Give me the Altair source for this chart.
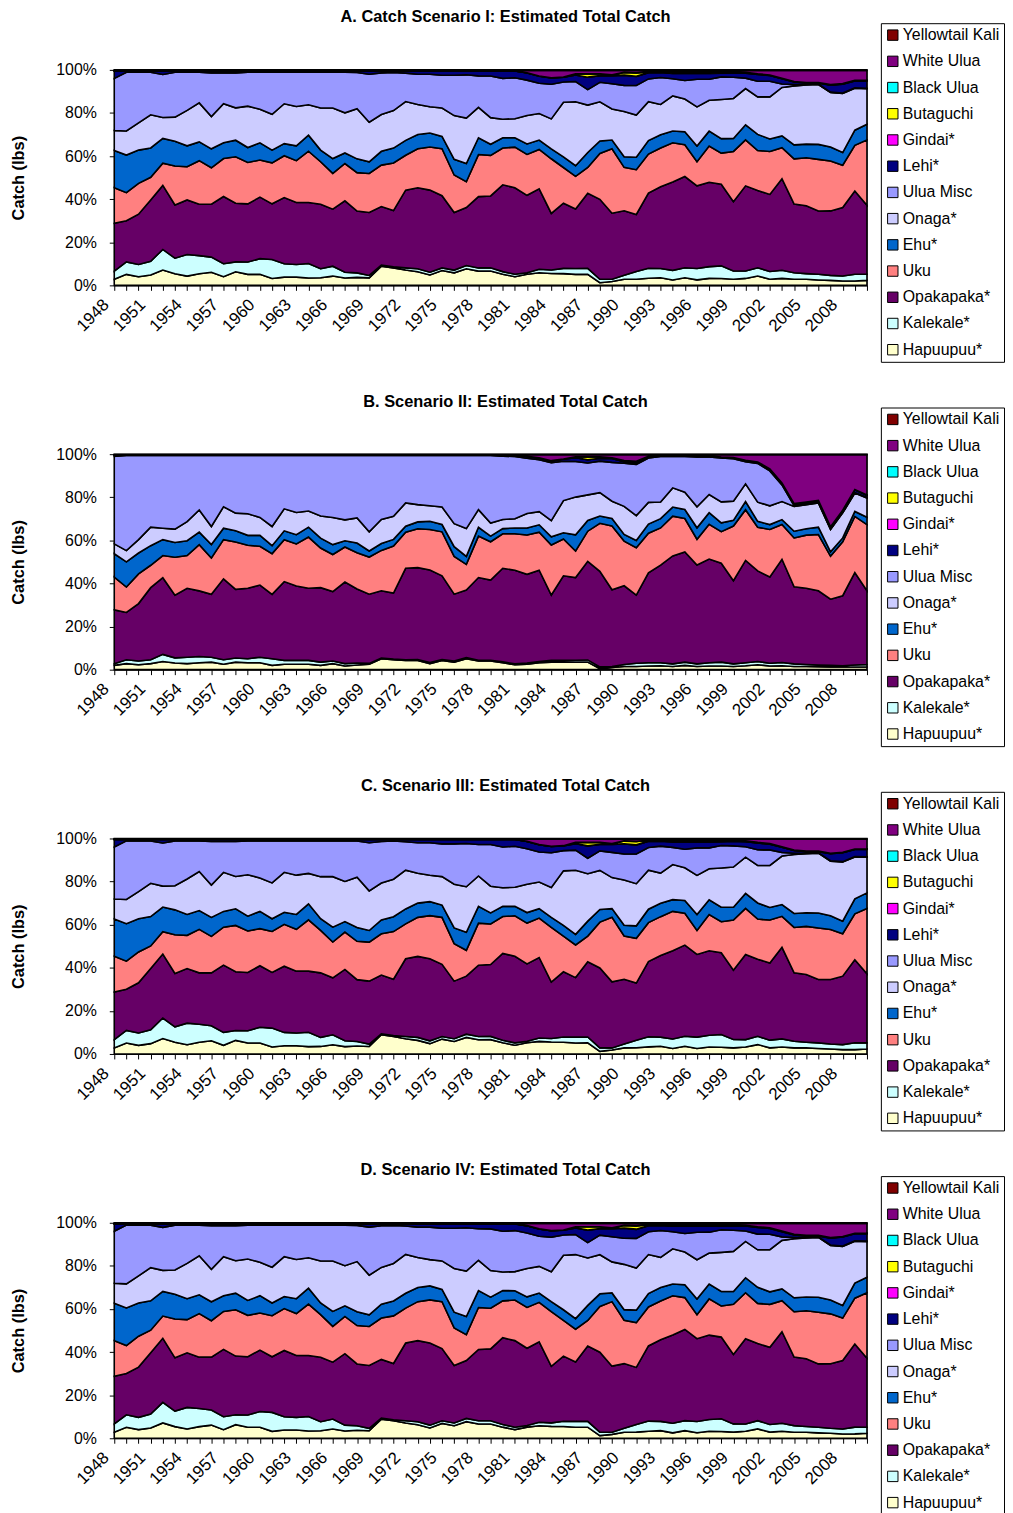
import altair as alt
import pandas as pd

years = list(range(1948, 2011))

series = ["Hapuupuu*", "Kalekale*", "Opakapaka*", "Uku", "Ehu*", "Onaga*", "Ulua Misc",
          "Lehi*", "Gindai*", "Butaguchi", "Black Ulua", "White Ulua", "Yellowtail Kali"]
colors = ["#FFFFCC", "#CCFFFF", "#660066", "#FF8080", "#0066CC", "#CCCCFF", "#9999FF",
          "#000080", "#FF00FF", "#FFFF00", "#00FFFF", "#800080", "#800000"]

titles = ["A. Catch Scenario I: Estimated Total Catch",
          "B. Scenario II: Estimated Total Catch",
          "C. Scenario III: Estimated Total Catch",
          "D. Scenario IV: Estimated Total Catch"]

# ---- Scenario I (also used for III and IV, which plot the same shares) ----
hap_a = [2.8, 5.1, 4.0, 4.8, 7.1, 5.4, 4.3, 5.4, 6.1, 4.0, 6.3, 5.1, 5.1, 3.2, 3.8, 3.8, 3.4, 3.5, 4.3, 3.4, 3.7,
         3.5, 8.9, 8.1, 7.1, 6.3, 4.8, 6.9, 5.8, 7.7, 6.6, 6.6, 5.1, 4.0, 5.1, 5.8, 5.5, 5.4, 5.1, 5.1, 1.2, 1.8,
         2.8, 2.8, 3.2, 3.5, 2.5, 3.5, 2.5, 3.2, 3.1, 2.8, 3.2, 4.3, 2.8, 3.2, 2.8, 2.8, 2.5, 2.3, 2.0, 2.0, 2.3]
kal_a = [3.8, 5.8, 5.7, 6.4, 9.5, 7.2, 10.0, 8.4, 7.0, 6.0, 4.6, 5.7, 7.3, 8.8, 6.2, 5.9, 6.7, 4.2, 4.6, 2.7, 2.1,
         1.1, 0.5, 0.5, 1.0, 1.4, 1.3, 1.2, 1.3, 1.5, 1.5, 1.5, 1.2, 1.1, 0.7, 1.6, 1.6, 2.4, 2.7, 2.7, 1.6, 1.0,
         1.8, 3.5, 4.6, 4.2, 4.4, 4.6, 5.2, 5.4, 5.8, 3.8, 3.4, 3.8, 3.5, 3.7, 3.0, 2.6, 2.6, 2.3, 2.3, 3.1, 2.8]
opa_a = [22.0, 19.1, 23.3, 28.4, 29.6, 24.7, 25.3, 23.8, 24.5, 31.2, 27.2, 27.0, 28.5, 25.8, 30.7, 28.7, 28.3, 29.9, 26.4, 33.1, 28.7,
         29.2, 27.2, 26.1, 36.1, 37.6, 38.1, 33.5, 26.7, 26.9, 33.1, 33.1, 39.8, 39.9, 35.4, 37.1, 26.1, 30.0, 27.5, 34.6, 36.8, 30.4,
         29.7, 26.0, 34.1, 37.3, 40.7, 41.8, 37.8, 38.7, 37.3, 31.8, 39.2, 35.4, 35.2, 41.9, 31.5, 31.2, 29.2, 29.7, 31.5, 38.1, 31.8]
uku_a = [16.4, 13.0, 14.3, 10.5, 10.3, 18.0, 15.4, 20.2, 16.9, 17.6, 21.5, 19.2, 17.2, 19.0, 19.4, 19.4, 23.8, 19.7, 16.6, 17.3, 17.8,
         18.1, 19.2, 22.1, 16.2, 18.1, 20.0, 21.8, 17.4, 12.0, 19.5, 18.7, 16.9, 18.7, 18.7, 18.2, 25.2, 16.4, 15.1, 11.8, 21.1, 29.7,
         19.9, 20.4, 17.7, 17.7, 18.1, 14.6, 11.0, 16.6, 14.2, 23.0, 21.2, 18.4, 19.6, 14.2, 20.8, 22.1, 23.8, 23.0, 19.5, 21.0, 30.1]
ehu_a = [17.2, 17.4, 15.4, 13.6, 11.4, 11.5, 9.7, 8.7, 8.8, 7.3, 7.7, 6.9, 8.0, 5.9, 5.6, 6.9, 7.4, 5.4, 6.9, 4.9, 6.4,
         5.4, 6.4, 6.9, 6.9, 6.6, 6.5, 5.7, 7.3, 8.4, 7.8, 5.1, 4.7, 4.3, 4.8, 4.3, 4.6, 4.9, 4.9, 6.9, 5.8, 4.0,
         4.9, 5.7, 6.1, 6.1, 5.4, 5.9, 7.2, 6.8, 6.6, 5.9, 6.9, 7.4, 5.7, 5.4, 6.4, 6.3, 6.9, 6.4, 5.8, 6.9, 7.2]
ona_a = [9.2, 11.2, 12.6, 15.4, 9.7, 11.2, 16.4, 18.1, 15.0, 18.1, 15.0, 19.2, 15.5, 16.6, 18.5, 18.2, 14.1, 19.5, 23.4, 18.6, 23.3,
         18.4, 17.1, 17.4, 18.0, 13.9, 12.2, 13.2, 20.3, 21.1, 14.1, 12.3, 8.5, 8.8, 13.0, 12.3, 13.8, 25.1, 29.6, 21.8, 18.0, 14.3,
         20.8, 19.2, 17.7, 13.8, 16.2, 15.0, 17.9, 14.2, 17.9, 18.4, 16.7, 17.2, 19.2, 22.2, 27.1, 27.2, 27.6, 25.1, 27.2, 19.2, 16.4]
ulm_a = [24.0, 27.2, 23.5, 19.7, 19.9, 20.8, 17.7, 14.2, 20.2, 14.3, 16.2, 15.7, 17.2, 19.5, 14.6, 15.9, 15.1, 16.6, 16.6, 18.8, 16.8,
         22.3, 19.3, 17.7, 13.2, 14.1, 15.1, 15.2, 18.7, 20.1, 14.6, 19.2, 18.7, 18.9, 16.2, 13.9, 16.0, 9.3, 9.3, 7.1, 9.0, 11.6,
         12.0, 13.5, 10.3, 12.3, 7.9, 8.5, 12.6, 9.6, 10.3, 9.7, 4.8, 7.2, 7.1, 1.6, 0.6, 0.3, 0.2, 0.2, 0.2, 0.2, 0.2]
lehi_a = [3.4, 0.6, 0.6, 0.6, 1.6, 0.6, 0.6, 0.6, 0.9, 0.9, 0.9, 0.6, 0.6, 0.6, 0.6, 0.6, 0.6, 0.6, 0.6, 0.6, 0.7,
          1.5, 0.9, 0.7, 1.0, 1.5, 1.5, 2.0, 2.0, 1.8, 2.3, 2.3, 3.4, 3.1, 3.3, 3.3, 2.9, 2.2, 3.0, 5.7, 3.0, 3.7,
          4.6, 4.1, 2.8, 2.3, 2.5, 3.3, 2.7, 2.7, 1.7, 2.1, 2.3, 3.1, 2.6, 2.4, 1.2, 0.6, 0.5, 3.2, 4.1, 3.2, 3.4]
gin_a = [0.05, 0.05, 0.05, 0.05, 0.05, 0.05, 0.05, 0.05, 0.05, 0.05, 0.05, 0.05, 0.05, 0.05, 0.05, 0.05, 0.05, 0.05, 0.05, 0.05, 0.05,
         0.05, 0.05, 0.05, 0.05, 0.05, 0.05, 0.05, 0.05, 0.05, 0.05, 0.05, 0.05, 0.05, 0.05, 0.05, 0.05, 0.05, 0.05, 0.05, 0.05, 0.05,
         0.1, 0.1, 0.1, 0.1, 0.1, 0.1, 0.1, 0.1, 0.1, 0.1, 0.1, 0.1, 0.1, 0.1, 0.1, 0.1, 0.1, 0.1, 0.1, 0.1, 0.1]
but_a = [0.0, 0.0, 0.0, 0.0, 0.0, 0.0, 0.0, 0.0, 0.0, 0.0, 0.0, 0.0, 0.0, 0.0, 0.0, 0.0, 0.0, 0.0, 0.0, 0.0, 0.0,
         0.0, 0.0, 0.0, 0.0, 0.0, 0.0, 0.0, 0.0, 0.0, 0.0, 0.0, 0.0, 0.0, 0.0, 0.0, 0.0, 0.0, 0.5, 1.5, 0.8, 0.3,
         1.2, 1.5, 0.3, 0.3, 0.6, 0.6, 0.5, 0.5, 0.4, 0.2, 0.2, 0.1, 0.1, 0.05, 0.05, 0.05, 0.05, 0.05, 0.05, 0.05, 0.05]
blk_a = [0.05, 0.05, 0.05, 0.05, 0.05, 0.05, 0.05, 0.05, 0.05, 0.05, 0.05, 0.05, 0.05, 0.05, 0.05, 0.05, 0.05, 0.05, 0.05, 0.05, 0.05,
         0.05, 0.05, 0.05, 0.05, 0.05, 0.05, 0.05, 0.05, 0.05, 0.05, 0.05, 0.05, 0.05, 0.05, 0.05, 0.05, 0.05, 0.05, 0.05, 0.05, 0.05,
         0.1, 0.1, 0.1, 0.1, 0.1, 0.1, 0.1, 0.1, 0.1, 0.1, 0.1, 0.1, 0.1, 0.1, 0.1, 0.1, 0.1, 0.1, 0.1, 0.1, 0.1]
wul_a = [0.1, 0.1, 0.1, 0.1, 0.1, 0.1, 0.1, 0.1, 0.1, 0.1, 0.1, 0.1, 0.1, 0.1, 0.1, 0.1, 0.1, 0.1, 0.1, 0.1, 0.1,
         0.1, 0.1, 0.1, 0.1, 0.1, 0.1, 0.1, 0.1, 0.1, 0.1, 0.1, 0.1, 0.1, 1.0, 2.5, 3.3, 3.0, 1.5, 1.5, 1.5, 2.0,
         0.8, 1.0, 0.5, 0.4, 0.5, 0.5, 0.6, 0.6, 0.6, 0.6, 0.8, 1.5, 2.0, 3.5, 5.0, 5.5, 5.5, 6.5, 6.0, 4.5, 4.5]
ytk_a = [0.3, 0.3, 0.3, 0.3, 0.3, 0.3, 0.3, 0.3, 0.3, 0.3, 0.3, 0.3, 0.3, 0.3, 0.3, 0.3, 0.3, 0.3, 0.3, 0.3, 0.3,
         0.3, 0.3, 0.3, 0.3, 0.3, 0.3, 0.3, 0.3, 0.3, 0.3, 0.3, 0.3, 0.3, 0.3, 0.3, 0.3, 0.3, 0.3, 0.3, 0.3, 0.3,
         0.3, 0.3, 0.3, 0.3, 0.3, 0.3, 0.3, 0.3, 0.3, 0.3, 0.3, 0.3, 0.3, 0.3, 0.3, 0.3, 0.3, 0.3, 0.3, 0.3, 0.3]

# ---- Scenario II ----
hap_b = [2.0, 2.8, 2.3, 2.8, 3.8, 3.1, 2.8, 3.2, 3.5, 2.5, 3.5, 3.2, 3.2, 2.0, 2.5, 2.5, 2.5, 2.0, 2.8, 1.7, 2.2,
         2.5, 5.1, 4.6, 4.3, 4.3, 2.8, 4.3, 3.5, 5.1, 4.0, 4.0, 3.2, 2.3, 2.5, 3.2, 3.5, 3.5, 3.5, 3.5, 0.5, 1.0,
         1.5, 1.5, 1.7, 1.8, 1.5, 2.0, 1.5, 1.7, 1.7, 1.5, 1.8, 2.3, 1.7, 1.8, 1.5, 1.5, 1.4, 1.2, 1.2, 1.2, 1.2]
kal_b = [0.8, 1.8, 1.7, 1.8, 3.3, 2.4, 3.0, 2.9, 2.3, 2.1, 1.9, 1.9, 2.6, 3.1, 1.8, 1.8, 1.8, 1.5, 1.2, 1.1, 0.9,
         0.4, 0.3, 0.3, 0.3, 0.4, 0.5, 0.4, 0.5, 0.5, 0.4, 0.4, 0.4, 0.4, 0.6, 0.6, 0.8, 0.8, 0.9, 1.0, 0.8, 0.5,
         0.9, 1.5, 1.5, 1.4, 1.2, 1.5, 1.2, 1.5, 1.8, 1.2, 1.4, 1.5, 1.3, 1.5, 1.2, 0.9, 0.8, 0.8, 0.6, 1.0, 1.2]
opa_b = [25.0, 22.0, 26.7, 33.5, 35.6, 29.1, 32.0, 30.5, 29.2, 37.6, 31.9, 32.7, 33.5, 29.9, 36.6, 34.6, 33.5, 34.6, 32.3, 37.9, 34.4,
         32.1, 31.2, 30.6, 42.4, 42.6, 42.9, 38.8, 31.0, 31.3, 38.3, 37.1, 43.4, 43.4, 41.1, 42.4, 30.3, 39.2, 38.3, 45.6, 44.2, 35.5,
         36.5, 31.6, 41.8, 45.3, 50.0, 51.0, 45.8, 48.0, 45.8, 38.5, 47.5, 42.0, 40.0, 47.9, 35.7, 35.4, 34.4, 30.7, 32.5, 42.8, 34.2]
uku_b = [15.2, 11.8, 13.8, 10.4, 10.3, 17.6, 15.2, 21.5, 16.9, 18.2, 22.0, 20.0, 18.0, 18.9, 19.5, 19.5, 23.8, 18.4, 17.2, 16.3, 16.8,
         17.2, 18.7, 21.8, 16.7, 18.0, 18.8, 20.4, 17.5, 11.9, 19.2, 17.8, 16.0, 16.9, 18.2, 17.7, 23.2, 17.0, 12.3, 13.9, 22.2, 29.5,
         20.7, 21.9, 18.4, 17.2, 18.4, 15.5, 11.9, 16.1, 14.6, 25.3, 23.5, 20.3, 22.0, 16.1, 22.7, 24.6, 26.1, 20.0, 25.0, 26.1, 30.7]
ehu_b = [10.9, 11.7, 9.7, 9.1, 7.4, 6.9, 6.9, 5.8, 6.2, 5.3, 5.2, 4.6, 5.1, 3.7, 4.1, 4.3, 4.6, 4.6, 4.6, 2.9, 4.5,
         2.8, 3.2, 3.1, 2.8, 3.2, 3.8, 3.4, 4.5, 3.7, 4.1, 2.6, 2.4, 2.7, 3.3, 3.4, 3.8, 2.9, 7.5, 5.0, 3.4, 3.5,
         3.1, 3.4, 4.2, 4.3, 4.2, 4.2, 5.3, 5.4, 4.1, 2.6, 3.8, 2.7, 2.3, 2.3, 3.1, 3.0, 3.4, 2.0, 1.8, 2.3, 3.4]
ona_b = [4.6, 5.2, 6.2, 8.6, 5.3, 6.2, 8.9, 10.3, 8.4, 10.0, 8.2, 10.0, 8.3, 8.9, 10.2, 10.3, 7.5, 10.3, 12.6, 9.7, 11.7,
         8.9, 11.1, 10.7, 10.8, 8.0, 7.2, 8.1, 10.7, 12.9, 8.2, 6.1, 4.2, 4.3, 6.7, 6.1, 7.5, 14.9, 17.5, 11.8, 10.8, 8.0,
         13.0, 11.5, 10.1, 7.7, 8.9, 8.0, 9.7, 8.4, 9.7, 8.9, 8.2, 8.9, 8.7, 8.4, 11.5, 11.1, 11.2, 10.3, 11.6, 8.5, 8.9]
ulm_b = [40.7, 44.2, 39.1, 33.3, 33.8, 34.2, 30.7, 25.3, 33.0, 23.8, 26.8, 27.1, 28.8, 33.0, 24.8, 26.5, 25.8, 28.1, 28.8, 29.9, 29.0,
         35.4, 29.7, 28.2, 22.0, 22.8, 23.3, 23.9, 31.6, 33.9, 25.1, 31.3, 29.4, 28.8, 25.6, 24.1, 26.9, 18.2, 16.5, 14.7, 14.6, 18.0,
         20.0, 23.8, 20.6, 21.1, 14.6, 16.6, 23.1, 17.4, 20.3, 19.7, 10.3, 18.0, 16.2, 7.7, 0.4, 0.3, 0.3, 0.3, 0.3, 0.3, 0.3]
lehi_b = [0.6, 0.2, 0.2, 0.2, 0.2, 0.2, 0.2, 0.2, 0.2, 0.2, 0.2, 0.2, 0.2, 0.2, 0.2, 0.2, 0.2, 0.2, 0.2, 0.2, 0.2,
          0.2, 0.2, 0.2, 0.2, 0.2, 0.2, 0.2, 0.2, 0.2, 0.2, 0.2, 0.5, 0.7, 0.8, 0.8, 0.8, 1.0, 1.8, 1.5, 1.3, 1.8,
          0.7, 0.8, 0.5, 0.3, 0.3, 0.3, 0.3, 0.3, 0.3, 0.3, 0.5, 0.5, 0.8, 0.8, 0.8, 0.8, 0.8, 0.8, 0.8, 1.2, 1.0]
gin_b = [0.05, 0.05, 0.05, 0.05, 0.05, 0.05, 0.05, 0.05, 0.05, 0.05, 0.05, 0.05, 0.05, 0.05, 0.05, 0.05, 0.05, 0.05, 0.05, 0.05, 0.05,
         0.05, 0.05, 0.05, 0.05, 0.05, 0.05, 0.05, 0.05, 0.05, 0.05, 0.05, 0.05, 0.05, 0.05, 0.05, 0.05, 0.05, 0.05, 0.05, 0.05, 0.05,
         0.05, 0.05, 0.05, 0.05, 0.05, 0.05, 0.05, 0.05, 0.05, 0.05, 0.05, 0.05, 0.05, 0.05, 0.05, 0.05, 0.05, 0.05, 0.05, 0.05, 0.05]
but_b = [0.0, 0.0, 0.0, 0.0, 0.0, 0.0, 0.0, 0.0, 0.0, 0.0, 0.0, 0.0, 0.0, 0.0, 0.0, 0.0, 0.0, 0.0, 0.0, 0.0, 0.0,
         0.0, 0.0, 0.0, 0.0, 0.0, 0.0, 0.0, 0.0, 0.0, 0.0, 0.0, 0.0, 0.0, 0.0, 0.0, 0.0, 0.0, 0.3, 1.3, 0.6, 0.2,
         0.5, 0.5, 0.2, 0.2, 0.1, 0.1, 0.1, 0.1, 0.1, 0.05, 0.05, 0.05, 0.05, 0.05, 0.05, 0.05, 0.05, 0.05, 0.05, 0.05, 0.05]
blk_b = [0.05, 0.05, 0.05, 0.05, 0.05, 0.05, 0.05, 0.05, 0.05, 0.05, 0.05, 0.05, 0.05, 0.05, 0.05, 0.05, 0.05, 0.05, 0.05, 0.05, 0.05,
         0.05, 0.05, 0.05, 0.05, 0.05, 0.05, 0.05, 0.05, 0.05, 0.05, 0.05, 0.05, 0.05, 0.05, 0.05, 0.05, 0.05, 0.05, 0.05, 0.05, 0.05,
         0.05, 0.05, 0.05, 0.05, 0.05, 0.05, 0.05, 0.05, 0.05, 0.05, 0.05, 0.05, 0.05, 0.05, 0.05, 0.05, 0.05, 0.05, 0.05, 0.05, 0.05]
wul_b = [0.1, 0.1, 0.1, 0.1, 0.1, 0.1, 0.1, 0.1, 0.1, 0.1, 0.1, 0.1, 0.1, 0.1, 0.1, 0.1, 0.1, 0.1, 0.1, 0.1, 0.1,
         0.1, 0.1, 0.1, 0.1, 0.1, 0.1, 0.1, 0.1, 0.1, 0.1, 0.1, 0.1, 0.1, 0.8, 1.5, 2.8, 2.0, 1.0, 1.0, 1.0, 1.5,
         2.7, 3.1, 0.8, 0.3, 0.3, 0.3, 0.6, 0.6, 1.1, 1.4, 2.6, 3.4, 6.6, 13.1, 22.7, 22.0, 21.2, 33.5, 25.8, 16.2, 18.7]
ytk_b = [0.2, 0.2, 0.2, 0.2, 0.2, 0.2, 0.2, 0.2, 0.2, 0.2, 0.2, 0.2, 0.2, 0.2, 0.2, 0.2, 0.2, 0.2, 0.2, 0.2, 0.2,
         0.2, 0.2, 0.2, 0.2, 0.2, 0.2, 0.2, 0.2, 0.2, 0.2, 0.2, 0.2, 0.2, 0.2, 0.2, 0.2, 0.2, 0.2, 0.2, 0.2, 0.2,
         0.2, 0.2, 0.2, 0.2, 0.2, 0.2, 0.2, 0.2, 0.2, 0.2, 0.2, 0.2, 0.2, 0.2, 0.2, 0.2, 0.2, 0.2, 0.2, 0.2, 0.2]

scen_a = [hap_a, kal_a, opa_a, uku_a, ehu_a, ona_a, ulm_a, lehi_a, gin_a, but_a, blk_a, wul_a, ytk_a]
scen_b = [hap_b, kal_b, opa_b, uku_b, ehu_b, ona_b, ulm_b, lehi_b, gin_b, but_b, blk_b, wul_b, ytk_b]

FONT = "Liberation Sans"
PW, PH = 758, 217


def make_df(arrays):
    rows = []
    for k, (name, vals) in enumerate(zip(series, arrays)):
        for yr, v in zip(years, vals):
            rows.append({"year": yr, "series": name, "ord": k, "value": v})
    return pd.DataFrame(rows)


def panel(arrays, title):
    df = make_df(arrays)
    return alt.Chart(df).mark_area(
        stroke="black", strokeWidth=1.6, opacity=1, interpolate="linear"
    ).encode(
        x=alt.X("year:Q",
                scale=alt.Scale(domain=[1948, 2010], nice=False, zero=False),
                axis=alt.Axis(values=years, format="d",
                              labelExpr="(datum.value - 1948) % 3 === 0 ? datum.label : ''",
                              labelAngle=-45, labelFontSize=17, labelOverlap=False,
                              labelFlush=False, tickSize=5, labelPadding=6,
                              labelOffset=-14, grid=False, title=None)),
        y=alt.Y("value:Q", stack="normalize",
                axis=alt.Axis(format="%", values=[0, 0.2, 0.4, 0.6, 0.8, 1.0],
                              labelFontSize=16, tickSize=5, labelPadding=13, grid=False,
                              title="Catch (lbs)", titleFontSize=16.5, titleFontWeight="bold",
                              titlePadding=29)),
        color=alt.Color("series:N",
                        scale=alt.Scale(domain=series, range=colors),
                        legend=alt.Legend(values=series[::-1], orient="none",
                                          legendX=772, legendY=-47, title=None,
                                          strokeColor="black", fillColor="white",
                                          padding=4, rowPadding=10.4,
                                          symbolType="square", symbolSize=110,
                                          symbolStrokeColor="black", symbolStrokeWidth=1,
                                          symbolOpacity=1, labelFontSize=16,
                                          labelOffset=2, labelColor="black",
                                          labelFont=FONT, labelLimit=300)),
        order=alt.Order("ord:Q", sort="ascending"),
    ).properties(
        width=PW, height=PH,
        title=alt.TitleParams(title, fontSize=16.5, fontWeight="bold", font=FONT,
                              anchor="middle", frame="group", dx=15, offset=-3,
                              color="black"),
    )


chart = alt.vconcat(
    panel(scen_a, titles[0]),
    panel(scen_b, titles[1]),
    panel(scen_a, titles[2]),
    panel(scen_a, titles[3]),
    spacing=30,
).resolve_legend(color="independent").properties(
    padding={"left": 2, "top": -5, "right": 0, "bottom": 0},
    background="white",
).configure_axis(
    labelFont=FONT, titleFont=FONT, labelColor="black", titleColor="black",
    domainColor="black", tickColor="black",
).configure_view(stroke="#808080")

chart.save("out.html", embed_options={"renderer": "svg", "actions": False})
